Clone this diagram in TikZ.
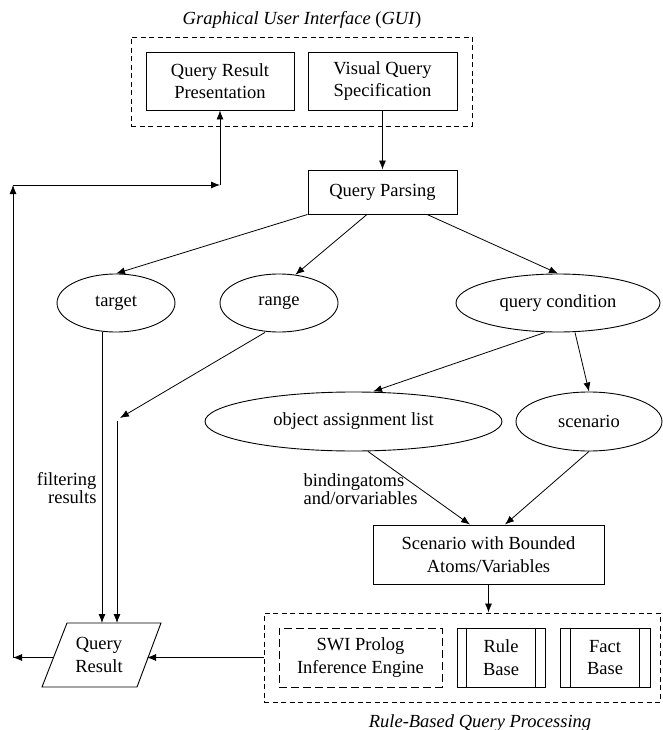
\documentclass[tikz,border=0pt]{standalone}
\usepackage{fontspec}
\setmainfont{Liberation Serif}
\usetikzlibrary{arrows.meta,shapes.geometric,calc}
\begin{document}
\begin{tikzpicture}[x=1pt,y=-1pt,
  every node/.style={font=\fontsize{18.5}{22.5}\selectfont},
  box/.style={draw, line width=0.9pt, rectangle, inner sep=0pt, align=center},
  dbox/.style={box, dash pattern=on 5pt off 3.5pt},
  ibox/.style={box, dash pattern=on 8pt off 4pt},
  oval/.style={draw, line width=0.9pt, ellipse, inner sep=0pt},
  arr/.style={line width=0.8pt, -{Latex[length=9pt,width=7pt]}},
  ln/.style={line width=0.8pt},
  tight/.style={font=\fontsize{18.5}{16}\selectfont}
]
\useasboundingbox (0,0) rectangle (662,730);
% GUI group
\node[dbox, minimum width=341pt, minimum height=89pt] (gui) at (301.5,81.5) {};
\node (guititle) at (302,20) {\textit{Graphical User Interface} (\textit{GUI})};
\node[box, minimum width=148pt, minimum height=58pt] (qrp) at (220,81) {Query Result\\Presentation};
\node[box, minimum width=149pt, minimum height=58pt] (vqs) at (382.5,81) {Visual Query\\Specification};
% parsing and parts
\node[box, minimum width=149pt, minimum height=44pt] (qp) at (382.5,192) {Query Parsing};
\node[oval, minimum width=118pt, minimum height=58pt] (target) at (116,303) {target};
\node[oval, minimum width=118pt, minimum height=58pt] (range) at (279,303) {range};
\node[oval, minimum width=204pt, minimum height=58pt] (qc) at (558,303) {query condition};
\node[oval, minimum width=297pt, minimum height=59pt] (oal) at (353.5,421.5) {object assignment list};
\node[oval, minimum width=146pt, minimum height=59pt] (scen) at (589,421.5) {scenario};
\node[box, minimum width=231pt, minimum height=59pt] (sbav) at (488.5,554.5) {Scenario with Bounded\\Atoms/Variables};
% rule-based processing group
\node[dbox, minimum width=396pt, minimum height=89pt] (rqp) at (462,657.5) {};
\node[ibox, minimum width=163pt, minimum height=59pt] (swi) at (360.5,657.5) {SWI Prolog\\Inference Engine};
\node[box, minimum width=88pt, minimum height=59pt] (rule) at (501,657.5) {Rule\\Base};
\node[box, minimum width=90pt, minimum height=59pt] (fact) at (605,657.5) {Fact\\Base};
\draw[ln] ([xshift=10pt]rule.north west) -- ([xshift=10pt]rule.south west);
\draw[ln] ([xshift=-10pt]rule.north east) -- ([xshift=-10pt]rule.south east);
\draw[ln] ([xshift=11pt]fact.north west) -- ([xshift=11pt]fact.south west);
\draw[ln] ([xshift=-11pt]fact.north east) -- ([xshift=-11pt]fact.south east);
\node (rqptitle) at (480,723) {\textit{Rule-Based Query Processing}};
% query result parallelogram
\coordinate (qtl) at (67,623);
\coordinate (qtr) at (161,623);
\coordinate (qbr) at (137,687);
\coordinate (qbl) at (42,687);
\draw[line width=0.9pt] (qtl) -- (qtr) -- (qbr) -- (qbl) -- cycle;
\node[align=center] (qr) at (99,655) {Query\\Result};
% labels
\node[anchor=east, align=right, tight] (filt) at (100,488) {filtering\\results};
\node[anchor=west, align=left, tight] (bind) at (300,489) {bindingatoms\\and/orvariables};
% connectors
\draw[arr] (vqs.south) -- (qp.north);
\draw[arr] (qp.south west) -- (target.north);
\draw[arr] ([xshift=-15.5pt]qp.south) -- (range.60);
\draw[arr] ([xshift=44.5pt]qp.south) -- (qc.north);
\draw[arr] ([xshift=-13pt]qc.south) -- ([xshift=19.5pt]oal.north);
\draw[arr] ([xshift=17pt]qc.south) -- (scen.north);
\draw[arr] ([xshift=14.5pt]oal.south) -- ([xshift=-18.5pt]sbav.north);
\draw[arr] (scen.south) -- ([xshift=16.5pt]sbav.north);
\draw[arr] (sbav.south) -- (sbav.south |- rqp.north);
\coordinate (qrR) at (147,657.5);
\coordinate (qrL) at (53,657.5);
\draw[arr] (rqp.west) -- (qrR);
\coordinate (c1) at (13,657.5);
\coordinate (c2) at (13,185);
\coordinate (c3) at (220,185);
\draw[arr] (qrL) -- (c1);
\draw[arr] (c1) -- (c2);
\draw[arr] (c2) -- (c3);
\draw[arr] (c3) -- (qrp.south);
\coordinate (t1) at ([xshift=-14pt]target.south);
\draw[arr] (t1) -- (t1 |- qtl);
\coordinate (r1) at (120,418);
\draw[arr] ([xshift=-14pt]range.south) -- (r1);
\coordinate (r2) at (117,421);
\draw[arr] (r2) -- (r2 |- qtl);
\end{tikzpicture}
\end{document}
